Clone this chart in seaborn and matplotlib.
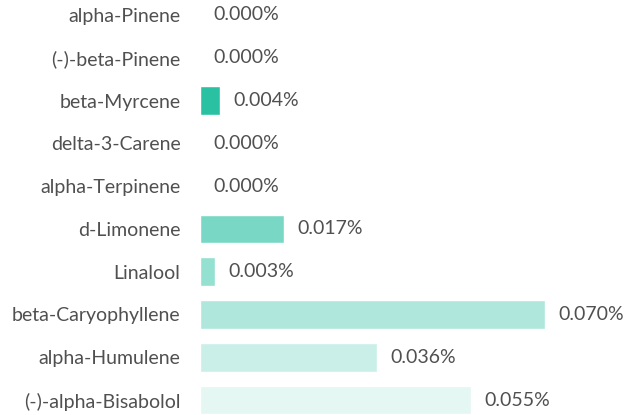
import numpy as np
import pandas as pd
import matplotlib
matplotlib.use("Agg")
import matplotlib.pyplot as plt
import seaborn as sns

terpenes = ["alpha-Pinene", "(-)-beta-Pinene", "beta-Myrcene", "delta-3-Carene",
            "alpha-Terpinene", "d-Limonene", "Linalool", "beta-Caryophyllene",
            "alpha-Humulene", "(-)-alpha-Bisabolol"]
percent = [0.000, 0.000, 0.004, 0.000, 0.000, 0.017, 0.003, 0.070, 0.036, 0.055]

# teal that fades out going down the list
base = np.array([26, 188, 156]) / 255.0
alphas = [min(0.93, 1.17 - 0.117 * i) for i in range(len(terpenes))]
colors = [tuple(base * a + (1 - a)) for a in alphas]

df = pd.DataFrame({"terpene": terpenes, "pct": percent})

sns.set_style("white")
plt.rcParams["font.family"] = ["Lato", "DejaVu Sans"]

fig = plt.figure(figsize=(6.25, 4.15), dpi=100)
ax = fig.add_axes([0.32, 0.0, 0.68, 1.0])
sns.barplot(data=df, y="terpene", x="pct", hue="terpene", palette=colors,
            legend=False, width=0.67, ax=ax, saturation=1)

ax.set_xlim(0, 0.0862)
ax.set_ylim(9.35, -0.35)
for i, v in enumerate(percent):
    ax.text(v + 0.0027, i, f"{v:.3f}%", va="center", ha="left",
            fontsize=14, color="#505050")

ax.set_xlabel("")
ax.set_ylabel("")
ax.set_xticks([])
ax.tick_params(axis="y", length=0, pad=14, labelsize=14, labelcolor="#505050")
sns.despine(ax=ax, left=True, bottom=True)

fig.savefig("out.png", dpi=100)
